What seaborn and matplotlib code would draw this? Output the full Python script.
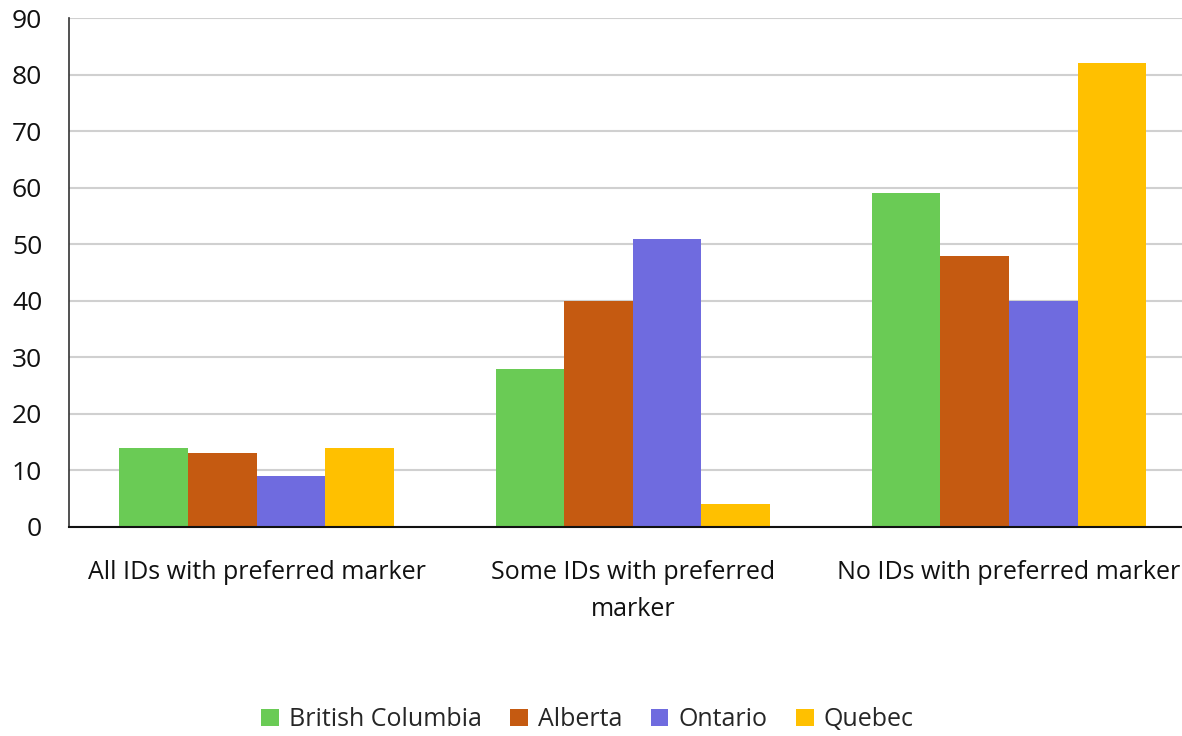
import pandas as pd
import matplotlib.pyplot as plt
import seaborn as sns

categories = ['All IDs with preferred marker', 'Some IDs with preferred\nmarker', 'No IDs with preferred marker']
provinces = ['British Columbia', 'Alberta', 'Ontario', 'Quebec']
bc = [14, 28, 59]
ab = [13, 40, 48]
on = [9, 51, 40]
qc = [14, 4, 82]
colors = ['#6ACB55', '#C55A11', '#6F6BDF', '#FFC000']

rows = []
for prov, vals in zip(provinces, [bc, ab, on, qc]):
    for cat, v in zip(categories, vals):
        rows.append({'category': cat, 'province': prov, 'value': v})
df = pd.DataFrame(rows)

sns.set_style('white')
plt.rcParams['font.family'] = ['Open Sans', 'DejaVu Sans']

fig = plt.figure(figsize=(11.82, 7.36), dpi=100)
ax = fig.add_axes([0.058, 0.284, 0.942, 0.6915])

sns.barplot(data=df, x='category', y='value', hue='province', order=categories,
            hue_order=provinces, palette=colors, width=0.73, saturation=1,
            edgecolor='none', ax=ax, zorder=2)

ax.set_ylim(0, 90)
ax.set_yticks(range(0, 91, 10))
ax.set_xlim(-0.5, 2.46)
ax.yaxis.grid(True, color='#d0d0d0', linewidth=1.5, zorder=0)
ax.set_axisbelow(True)
ax.set_xlabel('')
ax.set_ylabel('')
ax.tick_params(axis='y', labelsize=19, length=0, pad=19)
ax.tick_params(axis='x', labelsize=18, length=0, pad=24)
for lab in ax.get_yticklabels() + ax.get_xticklabels():
    lab.set_color('#111111')
for lab in ax.get_xticklabels():
    lab.set_linespacing(1.6)
for s in ['top', 'right']:
    ax.spines[s].set_visible(False)
ax.spines['left'].set_color('#333333')
ax.spines['bottom'].set_color('#111111')
ax.spines['left'].set_linewidth(1.2)
ax.spines['bottom'].set_linewidth(1.5)

ax.legend(loc='center', bbox_to_anchor=(0.466, -0.379), ncol=4, frameon=False,
          fontsize=18, handlelength=0.7, handleheight=0.7, handletextpad=0.4,
          columnspacing=1.15)

fig.savefig('out.png', dpi=100)
